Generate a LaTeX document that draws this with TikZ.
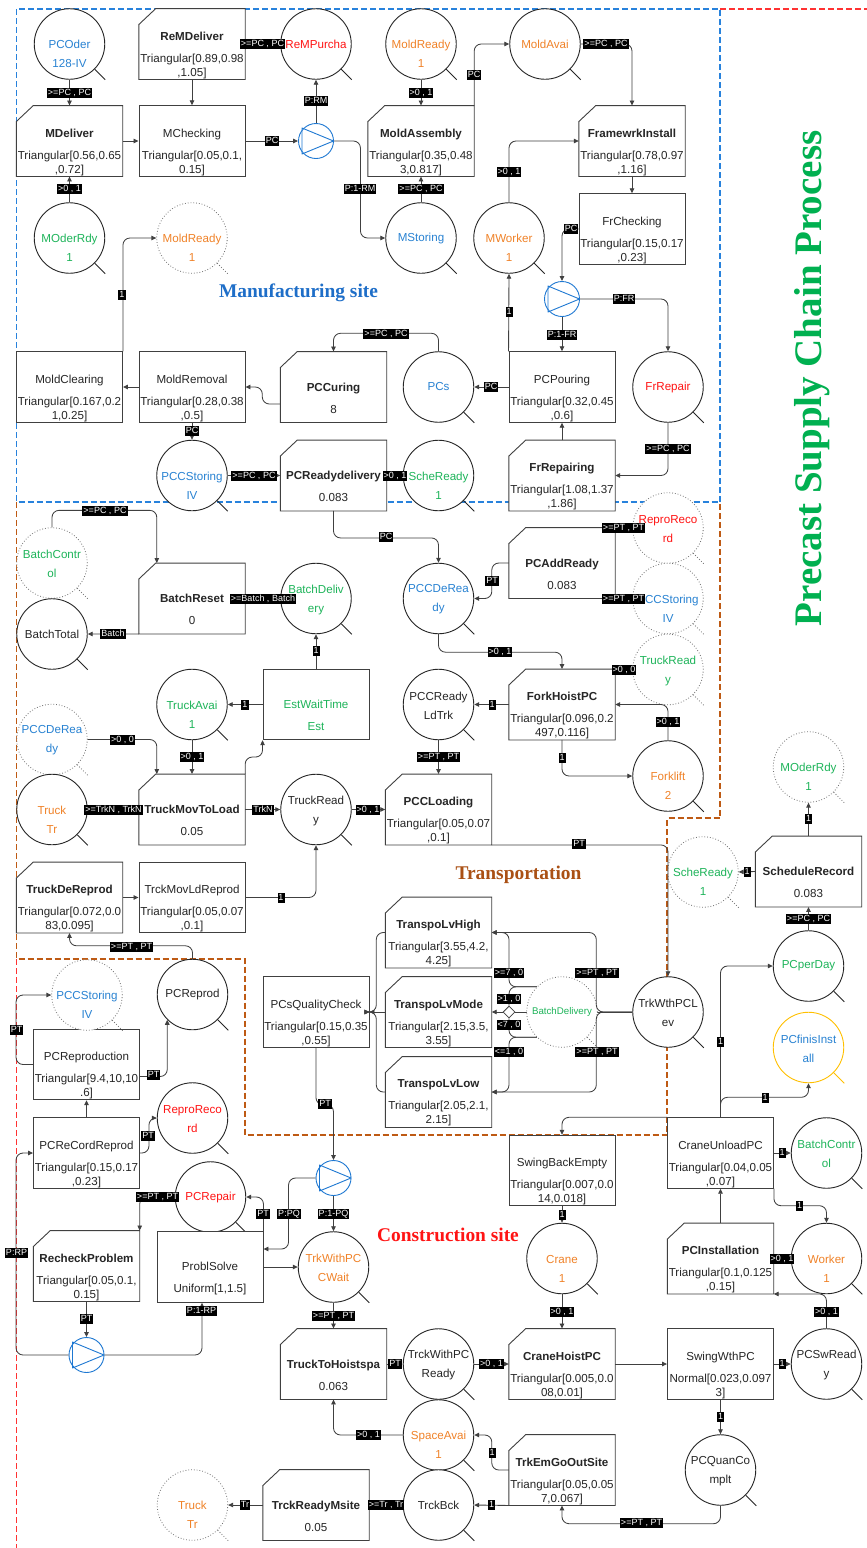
\documentclass[tikz,border=0pt]{standalone}
\usepackage{fontspec}
\setmainfont{Liberation Sans}
\newfontfamily\serifbf{Liberation Serif}
\usetikzlibrary{arrows.meta,calc,shapes.geometric}

\definecolor{lc}{RGB}{64,64,64}
\definecolor{cblue}{RGB}{40,130,210}
\definecolor{corange}{RGB}{240,130,40}
\definecolor{cgreen}{RGB}{30,180,90}
\definecolor{cred}{RGB}{255,20,20}
\definecolor{sblue}{RGB}{30,120,210}
\definecolor{cyellow}{RGB}{255,192,0}
\definecolor{frameblue}{RGB}{40,130,220}
\definecolor{framebrown}{RGB}{190,90,20}
\definecolor{framered}{RGB}{255,50,50}
\definecolor{titlegreen}{RGB}{0,176,80}
\definecolor{titleblue}{RGB}{30,110,200}
\definecolor{titlebrown}{RGB}{170,80,20}

\tikzset{
  lnk/.style={draw=lc, line width=0.85pt, rounded corners=7pt, -{Triangle[length=5pt,width=4.5pt]}},
  seg/.style={draw=lc, line width=0.85pt, rounded corners=7pt},
  plc/.style={circle, minimum size=70.5pt, inner sep=0pt, draw=black!85, line width=0.9pt, fill=white},
  plc tail/.style={draw=black!85, line width=0.9pt},
  dplc/.style={circle, minimum size=70.5pt, inner sep=0pt, draw=black!55, line width=0.8pt, dotted, fill=white},
  dplc tail/.style={draw=black!55, line width=0.8pt, dotted},
  yplc/.style={circle, minimum size=70.5pt, inner sep=0pt, draw=cyellow, line width=0.9pt, fill=white},
  yplc tail/.style={draw=cyellow, line width=0.9pt},
  actbox/.style={rectangle, minimum width=106pt, minimum height=70.5pt, inner sep=0pt},
  boxline/.style={draw=lc, line width=0.9pt, fill=white},
  ctx/.style={align=center, inner sep=0pt, font=\fontsize{11.6}{19}\selectfont},
  btx/.style={align=center, inner sep=0pt, font=\fontsize{11.6}{14}\selectfont, text=black!85},
  lbl/.style={fill=black, text=white, inner xsep=1pt, inner ysep=0.5pt, text height=7pt, text depth=2pt, font=\fontsize{9}{9}\selectfont},
  splt/.style={circle, minimum size=35pt, inner sep=0pt, draw=sblue, line width=0.9pt, fill=white},
  jn/.style={diamond, draw=lc, fill=white, line width=0.8pt, minimum width=12pt, minimum height=12pt, inner sep=0pt},
  frame/.style={line width=1.1pt, dash pattern=on 6pt off 3pt},
  region/.style={inner sep=0pt, font=\serifbf\bfseries\fontsize{19.4}{20}\selectfont},
}

% place: shape style, name, x, y, text offset, colour, text
\newcommand{\mkcirc}[7]{%
  \node[#1] (#2) at (#3,#4) {};
  \draw[#1 tail] (#2.-45) -- ++(10.5,10.5);
  \node[ctx,text=#6] (#2-t) at (#3,#4+#5) {#7};}
% plain activity: name, x, y, colour, text
\newcommand{\mkbox}[5]{%
  \node[actbox,boxline] (#1) at (#2,#3) {};
  \node[btx,text=#4] (#1-t) at (#2,#3+11) {#5};}
% chamfered activity: name, x, y, text
\newcommand{\mkcut}[4]{%
  \node[actbox] (#1) at (#2,#3) {};
  \path[boxline] ($(#1.north west)+(17,0)$) -- (#1.north east) -- (#1.south east) -- (#1.south west) -- ($(#1.north west)+(0,16)$) -- cycle;
  \node[btx] (#1-t) at (#2,#3+11) {#4};}
% probabilistic splitter
\newcommand{\mksplit}[3]{%
  \node[splt] (#1) at (#2,#3) {};
  \draw[sblue, line width=0.9pt, line join=round] ($(#1.center)+(-14,-13)$) -- ($(#1.center)+(17.5,0)$) -- ($(#1.center)+(-14,13)$) -- cycle;}

\begin{document}
\begin{tikzpicture}[x=1pt,y=-1pt]
\fill[white] (0,0) rectangle (867,1548);
\useasboundingbox (0,0) rectangle (867,1548);

% ---------- region frames ----------
\draw[frame, framebrown] (16.5,502) -- (16.5,959) -- (245,959) -- (245,1135) -- (667,1135) -- (667,818) -- (720,818) -- (720,502);
\draw[frame, framered] (720,9) -- (867,9);
\draw[frame, framered] (16.5,959) -- (16.5,1548);
\draw[frame, frameblue] (16.5,9) rectangle (720,502);

% ---------- titles ----------
\node[rotate=90, inner sep=0pt, text=titlegreen, font=\serifbf\bfseries\fontsize{39}{40}\selectfont] (ttl) at (812,378.5) {Precast Supply Chain Process};
\node[region, text=titleblue] (mfg) at (298.5,293) {Manufacturing site};
\node[region, text=titlebrown] (trn) at (518.5,875) {Transportation};
\node[region, text=cred] (cst) at (448,1235) {Construction site};

% ---------- manufacturing site ----------
\mkcirc{plc}{PCOder}{69.5}{44}{10}{cblue}{PCOder\\128-IV}
\mkcut{ReMDeliver}{192}{44}{\textbf{ReMDeliver}\\[8pt]Triangular[0.89,0.98\\,1.05]}
\mkcirc{plc}{ReMPurcha}{316}{44}{0}{cred}{ReMPurcha}
\mkcirc{plc}{MoldReadyA}{421}{44}{10}{corange}{MoldReady\\1}
\mkcirc{plc}{MoldAvai}{545}{44}{0}{corange}{MoldAvai}
\mkcut{MDeliver}{69.5}{141}{\textbf{MDeliver}\\[8pt]Triangular[0.56,0.65\\,0.72]}
\mkbox{MChecking}{192}{141}{black!85}{MChecking\\[8pt]Triangular[0.05,0.1,\\0.15]}
\mksplit{s1}{316}{141}
\mkcut{MoldAssembly}{421}{141}{\textbf{MoldAssembly}\\[8pt]Triangular[0.35,0.48\\3,0.817]}
\mkcut{FramewrkInstall}{632}{141}{\textbf{FramewrkInstall}\\[8pt]Triangular[0.78,0.97\\,1.16]}
\mkcirc{plc}{MOderRdy}{69.5}{238}{10}{cgreen}{MOderRdy\\1}
\mkcirc{dplc}{MoldReadyB}{192}{238}{10}{corange}{MoldReady\\1}
\mkcirc{plc}{MStoring}{421}{238}{0}{cblue}{MStoring}
\mkcirc{plc}{MWorker}{509}{238}{10}{corange}{MWorker\\1}
\mkbox{FrChecking}{632}{229}{black!85}{FrChecking\\[8pt]Triangular[0.15,0.17\\,0.23]}
\mksplit{s2}{562}{299}
\mkbox{MoldClearing}{69.5}{387}{black!85}{MoldClearing\\[8pt]Triangular[0.167,0.2\\1,0.25]}
\mkbox{MoldRemoval}{192}{387}{black!85}{MoldRemoval\\[8pt]Triangular[0.28,0.38\\,0.5]}
\mkcut{PCCuring}{333.5}{387}{\textbf{PCCuring}\\[8pt]8}
\mkcirc{plc}{PCs}{438.5}{387}{0}{cblue}{PCs}
\mkbox{PCPouring}{562}{387}{black!85}{PCPouring\\[8pt]Triangular[0.32,0.45\\,0.6]}
\mkcirc{plc}{FrRepair}{668}{387}{0}{cred}{FrRepair}
\mkcirc{plc}{PCCStoringA}{192}{475.5}{10}{cblue}{PCCStoring\\IV}
\mkcut{PCReadydelivery}{333.5}{475.5}{\textbf{PCReadydelivery}\\[8pt]0.083}
\mkcirc{plc}{ScheReadyA}{438.5}{475.5}{10}{cgreen}{ScheReady\\1}
\mkcut{FrRepairing}{562}{475.5}{\textbf{FrRepairing}\\[8pt]Triangular[1.08,1.37\\,1.86]}

% ---------- transportation ----------
\mkcirc{plc}{PCCDeReadyA}{438.5}{598.5}{1}{cblue}{PCCDeRea\\dy}
\mkcut{PCAddReady}{562}{563}{\textbf{PCAddReady}\\[8pt]0.083}
\mkcirc{dplc}{ReproRecordA}{668}{528}{1}{cred}{ReproReco\\rd}
\mkcirc{dplc}{PCCStoringB}{668}{598.5}{10}{cblue}{PCCStoring\\IV}
\mkcirc{dplc}{TruckReadyA}{668}{669.5}{1}{cgreen}{TruckRead\\y}
\mkcirc{dplc}{BatchControlA}{52}{563}{1}{cgreen}{BatchContr\\ol}
\mkcirc{plc}{BatchTotal}{52}{634}{0}{black!85}{BatchTotal}
\mkcut{BatchReset}{192}{598.5}{\textbf{BatchReset}\\[8pt]0}
\mkcirc{plc}{BatchDelivery}{316}{598.5}{1}{cgreen}{BatchDeliv\\ery}
\mkcirc{plc}{TruckAvai}{192}{704.5}{10}{cgreen}{TruckAvai\\1}
\mkbox{EstWait}{316}{704.5}{cgreen}{EstWaitTime\\[8pt]Est}
\mkcirc{plc}{PCCReadyLdTrk}{438.5}{704.5}{1}{black!85}{PCCReady\\LdTrk}
\mkcut{ForkHoistPC}{562}{704.5}{\textbf{ForkHoistPC}\\[8pt]Triangular[0.096,0.2\\497,0.116]}
\mkcirc{plc}{Forklift}{668}{776}{10}{corange}{Forklift\\2}
\mkcirc{dplc}{PCCDeReadyB}{52}{739.5}{1}{cblue}{PCCDeRea\\dy}
\mkcirc{plc}{Truck}{52}{809.5}{10}{corange}{Truck\\Tr}
\mkcut{TruckMovToLoad}{192}{809.5}{\textbf{TruckMovToLoad}\\[8pt]0.05}
\mkcirc{plc}{TruckReady}{316}{809.5}{1}{black!85}{TruckRead\\y}
\mkcut{PCCLoading}{438.5}{809.5}{\textbf{PCCLoading}\\[8pt]Triangular[0.05,0.07\\,0.1]}
\mkcut{TruckDeReprod}{69.5}{897.5}{\textbf{TruckDeReprod}\\[8pt]Triangular[0.072,0.0\\83,0.095]}
\mkbox{TrckMovLdReprod}{192}{897.5}{black!85}{TrckMovLdReprod\\[8pt]Triangular[0.05,0.07\\,0.1]}
\mkcut{TranspoLvHigh}{438.5}{932.5}{\textbf{TranspoLvHigh}\\[8pt]Triangular[3.55,4.2,\\4.25]}
\mkcut{TranspoLvMode}{438.5}{1012}{\textbf{TranspoLvMode}\\[8pt]Triangular[2.15,3.5,\\3.55]}
\mkcut{TranspoLvLow}{438.5}{1092}{\textbf{TranspoLvLow}\\[8pt]Triangular[2.05,2.1,\\2.15]}
\mkbox{PCsQualityCheck}{316}{1012}{black!85}{PCsQualityCheck\\[8pt]Triangular[0.15,0.35\\,0.55]}
\node[jn] (dia) at (509,1012) {};
\mkcirc{plc}{TrkWthPCLev}{668}{1012}{1}{black!85}{TrkWthPCL\\ev}
\draw[seg] (TrkWthPCLev.west) -- (dia.east);
\mkcirc{dplc}{BatchDeliveryB}{562}{1012}{0}{cgreen}{\fontsize{9.7}{12}\selectfont BatchDelivery}
\mkcirc{dplc}{ScheReadyB}{703}{872}{10}{cgreen}{ScheReady\\1}
\mkcut{ScheduleRecord}{808.5}{871.5}{\textbf{ScheduleRecord}\\[8pt]0.083}
\mkcirc{dplc}{MOderRdyB}{808.5}{767}{10}{cgreen}{MOderRdy\\1}
\mkcirc{plc}{PCperDay}{808.5}{966}{0}{cgreen}{PCperDay}
\mkcirc{yplc}{PCfinisInstall}{808.5}{1047.5}{1}{cblue}{PCfinisInst\\all}

% ---------- construction site ----------
\mkbox{SwingBackEmpty}{562}{1170.5}{black!85}{SwingBackEmpty\\[8pt]Triangular[0.007,0.0\\14,0.018]}
\mkbox{CraneUnloadPC}{720.5}{1153}{black!85}{CraneUnloadPC\\[8pt]Triangular[0.04,0.05\\,0.07]}
\mkcirc{plc}{BatchControlB}{826.5}{1153}{1}{cgreen}{BatchContr\\ol}
\mkcirc{plc}{Crane}{562}{1258.5}{10}{corange}{Crane\\1}
\mkcut{PCInstallation}{720.5}{1258.5}{\textbf{PCInstallation}\\[8pt]Triangular[0.1,0.125\\,0.15]}
\mkcirc{plc}{Worker}{826.5}{1258.5}{10}{corange}{Worker\\1}
\mkcut{CraneHoistPC}{562}{1364}{\textbf{CraneHoistPC}\\[8pt]Triangular[0.005,0.0\\08,0.01]}
\mkbox{SwingWthPC}{720.5}{1364}{black!85}{SwingWthPC\\[8pt]Normal[0.023,0.097\\3]}
\mkcirc{plc}{PCSwReady}{826.5}{1364}{1}{black!85}{PCSwRead\\y}
\mkcirc{plc}{TrckWithPCReady}{438.5}{1364}{1}{black!85}{TrckWithPC\\Ready}
\mkcut{TruckToHoistspa}{333.5}{1364}{\textbf{TruckToHoistspa}\\[8pt]0.063}
\mkcirc{plc}{SpaceAvai}{438.5}{1435}{10}{corange}{SpaceAvai\\1}
\mkcut{TrkEmGoOutSite}{562}{1470}{\textbf{TrkEmGoOutSite}\\[8pt]Triangular[0.05,0.05\\7,0.067]}
\mkcirc{plc}{PCQuanComplt}{720.5}{1470}{1}{black!85}{PCQuanCo\\mplt}
\mkcirc{plc}{TrckBck}{438.5}{1505}{0}{black!85}{TrckBck}
\mkcut{TrckReadyMsite}{316}{1505}{\textbf{TrckReadyMsite}\\[8pt]0.05}
\mkcirc{dplc}{TruckB}{192.5}{1505}{10}{corange}{Truck\\Tr}
\mkcirc{plc}{TrkWithPCCWait}{333.5}{1267}{1}{corange}{TrkWithPC\\CWait}
\mksplit{s3}{333.5}{1178}
\mkcirc{plc}{PCRepair}{210.5}{1197}{0}{cred}{PCRepair}
\mkbox{ProblSolve}{210}{1267}{black!85}{ProblSolve\\[8pt]Uniform[1,1.5]}
\mkcut{RecheckProblem}{86.5}{1266}{\textbf{RecheckProblem}\\[8pt]Triangular[0.05,0.1,\\0.15]}
\mksplit{s4}{86.5}{1355}
\mkbox{PCReCordReprod}{86.5}{1153}{black!85}{PCReCordReprod\\[8pt]Triangular[0.15,0.17\\,0.23]}
\mkcirc{plc}{ReproRecordB}{192.5}{1118}{1}{cred}{ReproReco\\rd}
\mkbox{PCReproduction}{86.5}{1064.5}{black!85}{PCReproduction\\[8pt]Triangular[9.4,10,10\\.6]}
\mkcirc{dplc}{PCCStoringC}{87}{995}{10}{cblue}{PCCStoring\\IV}
\mkcirc{plc}{PCReprod}{192.5}{994.5}{0}{black!85}{PCReprod}

% ---------- connectors: manufacturing ----------
\draw[lnk] (PCOder.south) -- (MDeliver.north);
\draw[lnk] (ReMDeliver.south) -- (MChecking.north);
\draw[lnk] (ReMPurcha.west) -- (ReMDeliver.east);
\draw[lnk] (MDeliver.east) -- (MChecking.west);
\draw[lnk] (MChecking.east) -- (s1.west);
\draw[lnk] (s1.north) -- (ReMPurcha.south);
\draw[lnk] (s1.east) -- ++(26.5,0) |- (MStoring.west);
\draw[lnk] (MoldReadyA.south) -- (MoldAssembly.north);
\draw[lnk] (MStoring.north) -- (MoldAssembly.south);
\draw[lnk] (MoldAssembly.north east) |- (MoldAvai.west);
\draw[lnk] (MoldAvai.east) -| (FramewrkInstall.north);
\draw[lnk] (MWorker.north) |- (FramewrkInstall.west);
\draw[lnk] (FramewrkInstall.south) -- (FrChecking.north);
\draw[lnk] (FrChecking.west) -| (s2.north);
\draw[lnk] (s2.south) -- (PCPouring.north);
\draw[lnk] (s2.east) -| (FrRepair.north);
\draw[lnk] (FrRepair.south) |- (FrRepairing.east);
\draw[lnk] (FrRepairing.north) -- (PCPouring.south);
\draw[lnk] (PCPouring.west) -- (PCs.east);
\draw[lnk] (PCPouring.north west) -- (MWorker.south);
\draw[lnk] (PCs.north) -- ++(0,-18) -| (PCCuring.north);
\draw[lnk] ($(PCCuring.west)+(0,17)$) -- ++(-18,0) |- (MoldRemoval.east);
\draw[lnk] (MoldRemoval.west) -- (MoldClearing.east);
\draw[lnk] (MoldClearing.north east) |- (MoldReadyB.west);
\draw[lnk] (MoldRemoval.south) -- (PCCStoringA.north);
\draw[lnk] (PCCStoringA.east) -- (PCReadydelivery.west);
\draw[lnk] (ScheReadyA.west) -- (PCReadydelivery.east);
\draw[lnk] (MOderRdy.north) -- (MDeliver.south);

% ---------- connectors: transportation ----------
\draw[lnk] (PCReadydelivery.south) -- ++(0,27) -| (PCCDeReadyA.north);
\draw[lnk] (PCAddReady.west) -- ++(-17,0) |- (PCCDeReadyA.east);
\draw[lnk] (ReproRecordA.west) -- (PCAddReady.north east);
\draw[lnk] (PCCStoringB.west) -- (PCAddReady.south east);
\draw[lnk] (PCCDeReadyA.south) -- ++(0,18) -| (ForkHoistPC.north);
\draw[lnk] (TruckReadyA.west) -- (ForkHoistPC.north east);
\draw[lnk] (Forklift.north) |- (ForkHoistPC.east);
\draw[lnk] (ForkHoistPC.south) |- (Forklift.west);
\draw[lnk] (ForkHoistPC.west) -- (PCCReadyLdTrk.east);
\draw[lnk] (PCCReadyLdTrk.south) -- (PCCLoading.north);
\draw[lnk] (TruckReady.east) -- (PCCLoading.west);
\draw[lnk] (TruckMovToLoad.east) -- (TruckReady.west);
\draw[lnk] (Truck.east) -- (TruckMovToLoad.west);
\draw[lnk] (PCCDeReadyB.east) -| ($(TruckMovToLoad.north west)+(18,0)$);
\draw[lnk] (TruckAvai.south) -- (TruckMovToLoad.north);
\draw[lnk] (EstWait.west) -- (TruckAvai.east);
\draw[lnk] (EstWait.north) -- (BatchDelivery.south);
\draw[lnk] (TruckMovToLoad.north east) -- ++(0,-17) -| (EstWait.south west);
\draw[lnk] (BatchDelivery.west) -- (BatchReset.east);
\draw[lnk] (BatchReset.south west) -- (BatchTotal.east);
\draw[lnk] (BatchControlA.north) -- ++(0,-17) -| ($(BatchReset.north west)+(18,0)$);
\draw[lnk] (TrckMovLdReprod.east) -| (TruckReady.south);
\draw[lnk] (TruckDeReprod.east) -- (TrckMovLdReprod.west);
\draw[lnk] (PCReprod.north) -- ++(0,-13) -| (TruckDeReprod.south);
\draw[lnk] (PCCLoading.south east) -| (TrkWthPCLev.north);
\draw[lnk] (TrkWthPCLev.west) -- ++(-36,0) |- (TranspoLvHigh.east);
\draw[lnk] (TrkWthPCLev.west) -- ++(-36,0) |- (TranspoLvLow.east);
\draw[lnk] (BatchDeliveryB.135) -- (dia.center |- BatchDeliveryB.135) |- (TranspoLvHigh.east);
\draw[lnk] (BatchDeliveryB.225) -- (dia.center |- BatchDeliveryB.225) |- (TranspoLvLow.east);
\draw[seg] (BatchDeliveryB.135) -- (dia.center |- BatchDeliveryB.135) -- (dia.north);
\draw[seg] (BatchDeliveryB.225) -- (dia.center |- BatchDeliveryB.225) -- (dia.south);
\draw[lnk] (dia.west) -- (TranspoLvMode.east);
\draw[lnk] (TranspoLvHigh.west) -- ++(-9,0) |- (PCsQualityCheck.east);
\draw[lnk] (TranspoLvMode.west) -- (PCsQualityCheck.east);
\draw[lnk] (TranspoLvLow.west) -- ++(-9,0) |- (PCsQualityCheck.east);
\draw[lnk] (PCsQualityCheck.south) -- ++(0,57) -| (s3.north);
\draw[lnk] (PCperDay.north) -- (ScheduleRecord.south);
\draw[lnk] (ScheduleRecord.west) -- (ScheReadyB.east);
\draw[lnk] (ScheduleRecord.north) -- (MOderRdyB.south);
\draw[lnk] (CraneUnloadPC.north) -- ++(0,-20) -| (PCfinisInstall.south);
\draw[lnk] (CraneUnloadPC.north) |- (PCperDay.west);

% ---------- connectors: construction site ----------
\draw[lnk] (s3.south) -- (TrkWithPCCWait.north);
\draw[lnk] (s3.west) -- ++(-27,0) |- ($(ProblSolve.east)+(0,-18)$);
\draw[lnk] (ProblSolve.north east) |- (PCRepair.east);
\draw[lnk] (ProblSolve.east) -- (TrkWithPCCWait.west);
\draw[lnk] (PCRepair.west) -| (RecheckProblem.north east);
\draw[lnk] (RecheckProblem.south) -- (s4.north);
\draw[lnk] (s4.east) -| ($(ProblSolve.south)+(-8,0)$);
\draw[lnk] (s4.west) -- ++(-52.5,0) |- (PCReCordReprod.west);
\draw[lnk] (PCReCordReprod.north) -- (PCReproduction.south);
\draw[lnk] (PCReCordReprod.east) -- ++(9,0) |- (ReproRecordB.west);
\draw[lnk] ($(PCReproduction.east)+(0,12)$) -| (PCReprod.225);
\draw[lnk] (PCReproduction.west) -- ++(-17,0) |- (PCCStoringC.west);
\draw[lnk] (TrkWithPCCWait.south) -- (TruckToHoistspa.north);
\draw[lnk] (TruckToHoistspa.east) -- (TrckWithPCReady.west);
\draw[lnk] (TrckWithPCReady.east) -- (CraneHoistPC.west);
\draw[lnk] (Crane.south) -- (CraneHoistPC.north);
\draw[lnk] (SwingBackEmpty.south) -- (Crane.north);
\draw[lnk] (CraneHoistPC.east) -- (SwingWthPC.west);
\draw[lnk] (SwingWthPC.east) -- (PCSwReady.west);
\draw[lnk] (SwingWthPC.south) -- (PCQuanComplt.north);
\draw[lnk] (PCQuanComplt.south) -- ++(0,18) -| (TrkEmGoOutSite.south);
\draw[lnk] (TrkEmGoOutSite.west) -- ++(-17,0) |- (SpaceAvai.east);
\draw[lnk] (TrkEmGoOutSite.south west) -- (TrckBck.east);
\draw[lnk] (SpaceAvai.west) -| (TruckToHoistspa.south);
\draw[lnk] (TrckBck.west) -- (TrckReadyMsite.east);
\draw[lnk] (TrckReadyMsite.west) -- (TruckB.east);
\draw[lnk] (PCSwReady.north) |- (PCInstallation.south east);
\draw[lnk] (Worker.west) -- (PCInstallation.east);
\draw[lnk] (PCInstallation.north) -- (CraneUnloadPC.south);
\draw[lnk] (CraneUnloadPC.south east) -- ++(0,17) -| (Worker.north);
\draw[lnk] (CraneUnloadPC.east) -- (BatchControlB.west);
\draw[lnk] (CraneUnloadPC.north west) -| (SwingBackEmpty.north);

% ---------- connector conditions ----------
\node[lbl] (q1) at (69.5,93) {>=PC , PC};
\node[lbl] (q2) at (262.5,44) {>=PC , PC};
\node[lbl] (q3) at (272,141) {PC};
\node[lbl] (q4) at (316,101) {P:RM};
\node[lbl] (q5) at (360,189) {P:1-RM};
\node[lbl] (q6) at (421,93) {>0 , 1};
\node[lbl] (q7) at (421,189) {>=PC , PC};
\node[lbl] (q8) at (474,75) {PC};
\node[lbl] (q9) at (606,44) {>=PC , PC};
\node[lbl] (q10) at (509,172) {>0 , 1};
\node[lbl] (q11) at (571,229) {PC};
\node[lbl] (q12) at (562,335) {P:1-FR};
\node[lbl] (q13) at (624,299) {P:FR};
\node[lbl] (q14) at (668,449) {>=PC , PC};
\node[lbl] (q15) at (491,387) {PC};
\node[lbl] (q16) at (509,312) {1};
\node[lbl] (q17) at (386,334) {>=PC , PC};
\node[lbl] (q18) at (122,295) {1};
\node[lbl] (q19) at (192,431) {PC};
\node[lbl] (q20) at (254,475.5) {>=PC , PC};
\node[lbl] (q21) at (395,475.5) {>0 , 1};
\node[lbl] (q22) at (69.5,189) {>0 , 1};
\node[lbl] (q23) at (386,537) {PC};
\node[lbl] (q24) at (492,581) {PT};
\node[lbl] (q25) at (623.5,528) {>=PT , PT};
\node[lbl] (q26) at (623.5,599) {>=PT , PT};
\node[lbl] (q27) at (500,652) {>0 , 1};
\node[lbl] (q28) at (624,669.5) {>0 , 0};
\node[lbl] (q29) at (668,722) {>0 , 1};
\node[lbl] (q30) at (562,758) {1};
\node[lbl] (q31) at (492,704.5) {1};
\node[lbl] (q32) at (438.5,757) {>=PT , PT};
\node[lbl] (q33) at (368,809.5) {>0 , 1};
\node[lbl] (q34) at (263,809.5) {TrkN};
\node[lbl] (q35) at (113.5,809.5) {>=TrkN , TrkN};
\node[lbl] (q36) at (122.5,739.5) {>0 , 0};
\node[lbl] (q37) at (192,757) {>0 , 1};
\node[lbl] (q38) at (245,704.5) {1};
\node[lbl] (q39) at (316,651) {1};
\node[lbl] (q40) at (263,598.5) {>=Batch , Batch};
\node[lbl] (q41) at (113,634) {Batch};
\node[lbl] (q42) at (105,511) {>=PC , PC};
\node[lbl] (q43) at (281,897.5) {1};
\node[lbl] (q44) at (131.5,946.5) {>=PT , PT};
\node[lbl] (q45) at (579,844) {PT};
\node[lbl] (q46) at (597,973) {>=PT , PT};
\node[lbl] (q47) at (597,1052) {>=PT , PT};
\node[lbl] (q48) at (509,973) {>=7 , 0};
\node[lbl] (q49) at (509,999) {>1 , 0};
\node[lbl] (q50) at (509,1025) {<7 , 0};
\node[lbl] (q51) at (509,1052) {<=1 , 0};
\node[lbl] (q52) at (325,1104) {PT};
\node[lbl] (q53) at (808.5,918.5) {>=PC , PC};
\node[lbl] (q54) at (747,872) {1};
\node[lbl] (q55) at (808.5,819) {1};
\node[lbl] (q56) at (720.5,1042) {1};
\node[lbl] (q57) at (765,1098) {1};
\node[lbl] (q58) at (333.5,1214) {P:1-PQ};
\node[lbl] (q59) at (289,1214) {P:PQ};
\node[lbl] (q60) at (263,1214) {PT};
\node[lbl] (q61) at (157.5,1197) {>=PT , PT};
\node[lbl] (q62) at (86.5,1319) {PT};
\node[lbl] (q63) at (201.5,1311) {P:1-RP};
\node[lbl] (q64) at (16.5,1253) {P:RP};
\node[lbl] (q65) at (148,1136) {PT};
\node[lbl] (q66) at (153.5,1075) {PT};
\node[lbl] (q67) at (16.5,1029.5) {PT};
\node[lbl] (q68) at (333.5,1316) {>=PT , PT};
\node[lbl] (q69) at (395,1364) {PT};
\node[lbl] (q70) at (491.5,1364) {>0 , 1};
\node[lbl] (q71) at (562,1312) {>0 , 1};
\node[lbl] (q72) at (562,1214.5) {1};
\node[lbl] (q73) at (782,1364) {1};
\node[lbl] (q74) at (720.5,1417) {1};
\node[lbl] (q75) at (641.5,1523) {>=PT , PT};
\node[lbl] (q76) at (492,1452.5) {1};
\node[lbl] (q77) at (491.5,1505) {1};
\node[lbl] (q78) at (368.5,1435) {>0 , 1};
\node[lbl] (q79) at (386,1505) {>=Tr , Tr};
\node[lbl] (q80) at (245,1505) {Tr};
\node[lbl] (q81) at (826.5,1312) {>0 , 1};
\node[lbl] (q82) at (782,1258.5) {>0 , 1};
\node[lbl] (q83) at (799.5,1205.5) {1};
\node[lbl] (q84) at (782,1153) {1};
\end{tikzpicture}
\end{document}
